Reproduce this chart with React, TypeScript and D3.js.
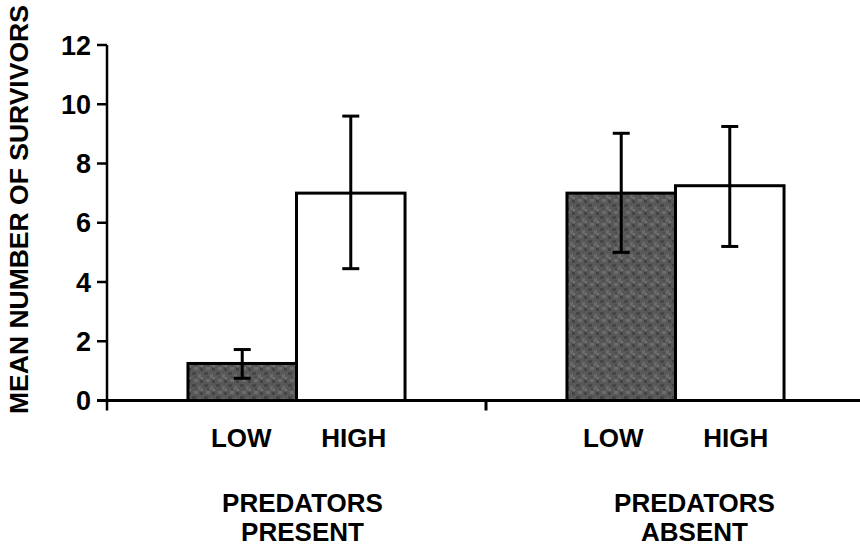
import React from "react";
import * as d3 from "d3";

const groups = ["PREDATORS PRESENT", "PREDATORS ABSENT"];
const groupLines = [["PREDATORS", "PRESENT"], ["PREDATORS", "ABSENT"]];
const levels = ["LOW", "HIGH"];
const means = [[1.25, 7.0], [7.0, 7.25]];
const errLow = [[0.75, 4.45], [5.0, 5.2]];
const errHigh = [[1.72, 9.6], [9.02, 9.25]];
const yTicks = [0, 2, 4, 6, 8, 10, 12];
const yTitle = "MEAN NUMBER OF SURVIVORS";

const W = 860, H = 549;
const FONT = "'Liberation Sans', Arial, sans-serif";

export default function App() {
  const x0 = d3.scaleBand<string>().domain(groups).range([107, 865]).paddingInner(0).paddingOuter(0);
  const x1 = d3.scaleBand<string>().domain(levels).range([0, x0.bandwidth()]).paddingInner(0).paddingOuter(0.746);
  const y = d3.scaleLinear().domain([0, 12]).range([400.5, 45]);
  const axisX = 107;
  const baseY = y(0);
  const fills = ["url(#mottle)", "#ffffff"];
  const labelOffsets = [[-1, 3], [-8, 6]];
  const groupLabelOffset = [6, 19];

  return (
    <svg width={W} height={H} style={{ position: "absolute", left: 0, top: 0, background: "#fff" }}>
      <defs>
        <pattern id="mottle" width="12" height="12" patternUnits="userSpaceOnUse">
          <rect width="12" height="12" fill="#585858" />
          <rect x="0" y="0" width="4" height="3" fill="#464646" />
          <rect x="6" y="2" width="3" height="4" fill="#6a6a6a" />
          <rect x="2" y="7" width="4" height="3" fill="#6c6c6c" />
          <rect x="8" y="8" width="3" height="3" fill="#444444" />
          <rect x="9" y="5" width="2" height="2" fill="#767676" />
          <rect x="3" y="4" width="2" height="2" fill="#4e4e4e" />
        </pattern>
      </defs>
      <rect width={W} height={H} fill="#fff" />
      {groups.map((g, gi) =>
        levels.map((l, li) => {
          const bx = (x0(g) as number) + (x1(l) as number);
          const bw = x1.bandwidth();
          const top = y(means[gi][li]);
          return (
            <rect key={g + l} x={bx} y={top} width={bw} height={baseY - top}
              fill={fills[li]} stroke="#000" strokeWidth={3} />
          );
        })
      )}
      {groups.map((g, gi) =>
        levels.map((l, li) => {
          const cx = (x0(g) as number) + (x1(l) as number) + x1.bandwidth() / 2;
          const y1 = y(errHigh[gi][li]);
          const y2 = y(errLow[gi][li]);
          return (
            <g key={"e" + g + l} stroke="#000" strokeWidth={3}>
              <line x1={cx} x2={cx} y1={y1} y2={y2} />
              <line x1={cx - 8.5} x2={cx + 8.5} y1={y1} y2={y1} />
              <line x1={cx - 8.5} x2={cx + 8.5} y1={y2} y2={y2} />
            </g>
          );
        })
      )}
      <line x1={97} x2={860} y1={baseY} y2={baseY} stroke="#000" strokeWidth={3} />
      <line x1={axisX} x2={axisX} y1={y(12)} y2={baseY + 10} stroke="#000" strokeWidth={2.5} />
      <line x1={x0("PREDATORS ABSENT") as number} x2={x0("PREDATORS ABSENT") as number} y1={baseY} y2={baseY + 10} stroke="#000" strokeWidth={3} />
      {yTicks.map((t) => (
        <g key={t}>
          <line x1={97} x2={axisX} y1={y(t)} y2={y(t)} stroke="#000" strokeWidth={2.5} />
          <text x={91} y={y(t)} dy="0.36em" textAnchor="end" fontFamily={FONT} fontWeight="bold" fontSize={27}>{t}</text>
        </g>
      ))}
      {groups.map((g, gi) =>
        levels.map((l, li) => (
          <text key={"l" + g + l}
            x={(x0(g) as number) + (x1(l) as number) + x1.bandwidth() / 2 + labelOffsets[gi][li]}
            y={447} textAnchor="middle" fontFamily={FONT} fontWeight="bold" fontSize={26}>{l}</text>
        ))
      )}
      {groups.map((g, gi) => (
        <g key={"g" + g}>
          <text x={(x0(g) as number) + x0.bandwidth() / 2 + groupLabelOffset[gi]} y={512}
            textAnchor="middle" fontFamily={FONT} fontWeight="bold" fontSize={26}>{groupLines[gi][0]}</text>
          <text x={(x0(g) as number) + x0.bandwidth() / 2 + groupLabelOffset[gi]} y={541}
            textAnchor="middle" fontFamily={FONT} fontWeight="bold" fontSize={26}>{groupLines[gi][1]}</text>
        </g>
      ))}
      <text transform="translate(28,414) rotate(-90)" textAnchor="start"
        fontFamily={FONT} fontWeight="bold" fontSize={26.5}>{yTitle}</text>
    </svg>
  );
}
